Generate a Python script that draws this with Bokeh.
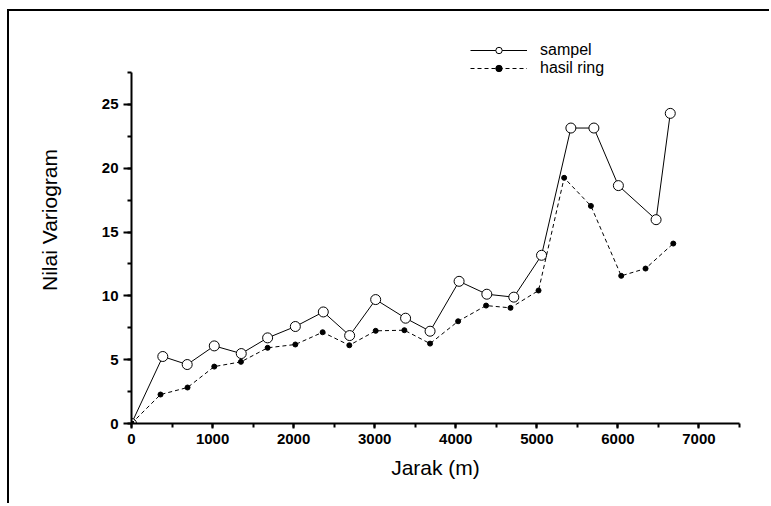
from bokeh.plotting import figure
from bokeh.models import SingleIntervalTicker, Legend, LegendItem, Range1d
from bokeh.embed import file_html
from bokeh.resources import INLINE

# data
jarak_sampel = [0, 386, 687, 1021, 1354, 1679, 2021, 2366, 2691, 3012, 3381,
                3683, 4041, 4383, 4716, 5058, 5420, 5704, 6006, 6471, 6646]
nilai_sampel = [0, 5.25, 4.62, 6.08, 5.48, 6.71, 7.6, 8.74, 6.89, 9.71, 8.25,
                7.23, 11.14, 10.13, 9.9, 13.18, 23.15, 23.15, 18.64, 15.97, 24.3]

jarak_ring = [0, 358, 691, 1021, 1350, 1679, 2021, 2358, 2687, 3012, 3366,
              3683, 4029, 4374, 4675, 5021, 5337, 5667, 6041, 6341, 6683]
nilai_ring = [0, 2.27, 2.82, 4.46, 4.83, 5.93, 6.19, 7.15, 6.13, 7.26, 7.31,
              6.26, 8.01, 9.24, 9.06, 10.42, 19.25, 17.05, 11.57, 12.14, 14.1]

FONT = "Liberation Sans"

p = figure(width=762, height=494, output_backend="svg", toolbar_location=None,
           x_range=Range1d(0, 7500), y_range=Range1d(0, 31.89),
           min_border_left=122, min_border_right=32, min_border_top=5,
           min_border_bottom=82)
p.styles = {"margin-left": "7px", "margin-top": "9px",
            "border-top": "2px solid black", "border-left": "2px solid black"}
p.xgrid.visible = False
p.ygrid.visible = False
p.outline_line_color = None
p.background_fill_color = "white"
p.border_fill_color = "white"

p.xaxis.ticker = SingleIntervalTicker(interval=1000, num_minor_ticks=2)
p.yaxis.ticker = SingleIntervalTicker(interval=5, num_minor_ticks=2)
p.yaxis.bounds = (0, 27.5)
p.xaxis.axis_label = "Jarak (m)"
p.yaxis.axis_label = "Nilai Variogram"

for ax in (p.xaxis[0], p.yaxis[0]):
    ax.axis_line_width = 2
    ax.axis_line_color = "black"
    ax.major_tick_line_width = 2
    ax.minor_tick_line_width = 2
    ax.major_tick_line_color = "black"
    ax.minor_tick_line_color = "black"
    ax.major_tick_in = 0
    ax.minor_tick_in = 0
    ax.major_label_text_font = FONT
    ax.major_label_text_font_style = "bold"
    ax.major_label_text_font_size = "15px"
    ax.major_label_text_color = "black"
    ax.axis_label_text_font = FONT
    ax.axis_label_text_font_style = "normal"
    ax.axis_label_text_font_size = "21px"
    ax.axis_label_text_color = "black"

p.xaxis.major_tick_out = 5
p.xaxis.minor_tick_out = 4
p.xaxis.major_label_standoff = 5
p.xaxis.axis_label_standoff = 9
p.yaxis.major_tick_out = 8
p.yaxis.minor_tick_out = 4
p.yaxis.major_label_standoff = 5
p.yaxis.axis_label_standoff = 38

l1 = p.line(jarak_sampel, nilai_sampel, line_color="black", line_width=1)
s1 = p.scatter(jarak_sampel, nilai_sampel, marker="circle", size=10,
               fill_color="white", line_color="black", line_width=1)
l2 = p.line(jarak_ring, nilai_ring, line_color="black", line_width=1,
            line_dash="4 3")
s2 = p.scatter(jarak_ring, nilai_ring, marker="circle", size=5,
               fill_color="black", line_color="black", line_width=1)

common = dict(padding=0, spacing=0, margin=0, glyph_width=57,
              glyph_height=16, label_height=16, label_standoff=13,
              border_line_color=None, background_fill_alpha=0,
              label_text_font=FONT, label_text_font_size="16px",
              label_text_color="black")
legend1 = Legend(items=[LegendItem(label="sampel", renderers=[l1, s1])],
                 location=(339, 364), **common)
legend2 = Legend(items=[LegendItem(label="hasil ring", renderers=[l2, s2])],
                 location=(339, 346), **common)
p.add_layout(legend1, "center")
p.add_layout(legend2, "center")

open("out.html", "w").write(file_html(p, INLINE))
